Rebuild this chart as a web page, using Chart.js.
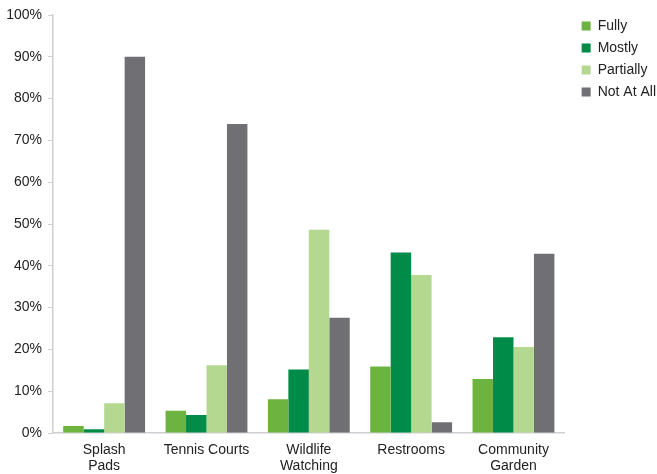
<!DOCTYPE html>
<html>
<head>
<meta charset="utf-8">
<script src="https://cdn.jsdelivr.net/npm/chart.js@4.4.0/dist/chart.umd.min.js"></script>
<style>
  html, body { margin: 0; padding: 0; background: #fff; }
  #wrap { width: 657px; height: 474px; }
</style>
</head>
<body>
<div id="wrap"><canvas id="barChart" width="657" height="474"></canvas></div>
<script>
const categories = [['Splash', 'Pads'], 'Tennis Courts', ['Wildlife', 'Watching'], 'Restrooms', ['Community', 'Garden']];
const fully = [1.7, 5.3, 8.1, 15.9, 12.9];
const mostly = [0.9, 4.3, 15.2, 43.2, 22.9];
const partially = [7.1, 16.2, 48.6, 37.8, 20.6];
const notAtAll = [90.0, 73.9, 27.6, 2.6, 42.9];

// nudge the legend to where the original has it
const legendNudge = {
    id: 'legendNudge',
    afterLayout(chart) {
        const lg = chart.legend;
        lg.left += 9;
        lg.right += 9;
        lg.top -= 4;
        lg.bottom -= 4;
    }
};

const ctx = document.getElementById('barChart').getContext('2d');
new Chart(ctx, {
    type: 'bar',
    data: {
        labels: categories,
        datasets: [
            { label: 'Fully', data: fully, backgroundColor: '#6DB33F' },
            { label: 'Mostly', data: mostly, backgroundColor: '#008C48' },
            { label: 'Partially', data: partially, backgroundColor: '#B5D891' },
            { label: 'Not At All', data: notAtAll, backgroundColor: '#707074' }
        ]
    },
    options: {
        responsive: false,
        animation: false,
        layout: { padding: { top: 15, left: 0, right: 0, bottom: 0 } },
        datasets: {
            bar: { categoryPercentage: 0.8, barPercentage: 1.0 }
        },
        plugins: {
            legend: {
                position: 'right',
                align: 'start',
                labels: {
                    boxWidth: 9,
                    boxHeight: 9,
                    padding: 8,
                    color: '#222',
                    font: { family: 'Liberation Sans', size: 14, lineHeight: 1.15 }
                }
            },
            tooltip: { enabled: false }
        },
        scales: {
            x: {
                grid: { display: false, drawTicks: false },
                border: { color: '#cfcfd3', width: 1.5 },
                afterFit: s => { s.height = 41; },
                ticks: {
                    color: '#222',
                    padding: 9,
                    maxRotation: 0,
                    font: { family: 'Liberation Sans', size: 14, lineHeight: 1.15 }
                }
            },
            y: {
                min: 0,
                max: 100,
                afterFit: s => { s.width = 53; },
                grid: { drawOnChartArea: false, drawTicks: true, tickLength: 5, color: '#cfcfd3' },
                border: { color: '#cfcfd3', width: 1.5 },
                ticks: {
                    stepSize: 10,
                    padding: 6,
                    color: '#222',
                    font: { family: 'Liberation Sans', size: 14 },
                    callback: v => v + '%'
                }
            }
        }
    },
    plugins: [legendNudge]
});
</script>
</body>
</html>
